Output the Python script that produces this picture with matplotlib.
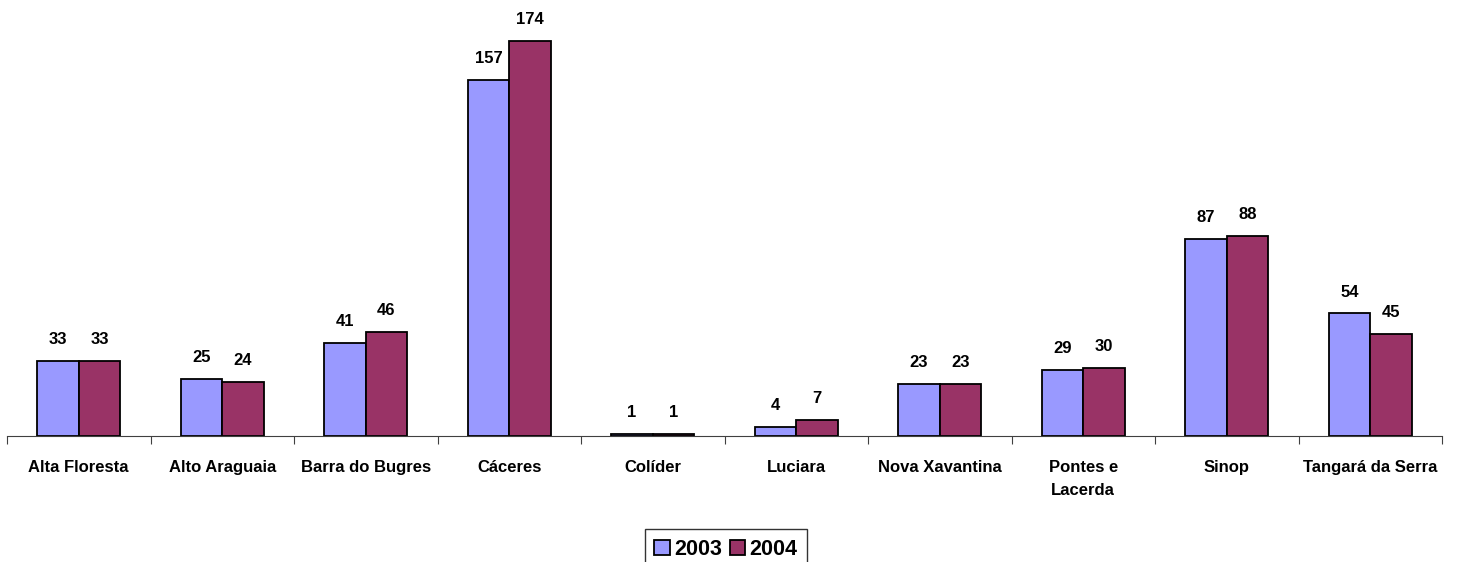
import matplotlib.pyplot as plt
import numpy as np

plt.rcParams["font.family"] = ["Liberation Sans", "DejaVu Sans"]

# %%
# Data
cities = [
    "Alta Floresta",
    "Alto Araguaia",
    "Barra do Bugres",
    "Cáceres",
    "Colíder",
    "Luciara",
    "Nova Xavantina",
    "Pontes e\nLacerda",
    "Sinop",
    "Tangará da Serra",
]
vals_2003 = [33, 25, 41, 157, 1, 4, 23, 29, 87, 54]
vals_2004 = [33, 24, 46, 174, 1, 7, 23, 30, 88, 45]

# %%
fig = plt.figure(figsize=(14.58, 5.62), dpi=100)
ax = fig.add_axes([7 / 1458, 126 / 562, 1435 / 1458, 436 / 562])

x = np.arange(len(cities))
w = 0.289

for off, vals, color, lab in [
    (-w / 2, vals_2003, "#9999FF", "2003"),
    (w / 2, vals_2004, "#993366", "2004"),
]:
    bars = ax.bar(x + off, vals, width=w, color=color, edgecolor="black",
                  linewidth=1.3, label=lab)
    for b, v in zip(bars, vals):
        ax.annotate(f"{v}", (b.get_x() + b.get_width() / 2, v),
                    xytext=(0, 10), textcoords="offset points",
                    ha="center", va="bottom", fontsize=12, fontweight="bold")

ax.set_xlim(-0.5, len(cities) - 0.5)
ax.set_ylim(0, 436 / 2.27)

for s in ["top", "right", "left"]:
    ax.spines[s].set_visible(False)
ax.spines["bottom"].set_color("#404040")
ax.set_yticks([])

# boundary ticks without labels, labels at centers
ax.set_xticks(np.arange(-0.5, len(cities) + 0.5, 1.0))
ax.set_xticklabels([])
ax.tick_params(axis="x", which="major", length=6, color="#404040")
ax.set_xticks(x, minor=True)
ax.set_xticklabels(cities, minor=True, fontsize=12, fontweight="bold",
                   linespacing=1.7)
ax.tick_params(axis="x", which="minor", length=0, pad=17)

leg = fig.legend(
    loc="upper center",
    bbox_to_anchor=(0.498, 1 - 529 / 562),
    borderaxespad=0,
    ncol=2,
    frameon=True,
    fancybox=False,
    edgecolor="black",
    prop={"size": 15.5, "weight": "bold"},
    handlelength=0.7,
    handleheight=0.7,
    handletextpad=0.2,
    columnspacing=0.4,
    borderpad=0.45,
)
leg.get_frame().set_linewidth(1.0)

fig.savefig("out.png", dpi=100)
